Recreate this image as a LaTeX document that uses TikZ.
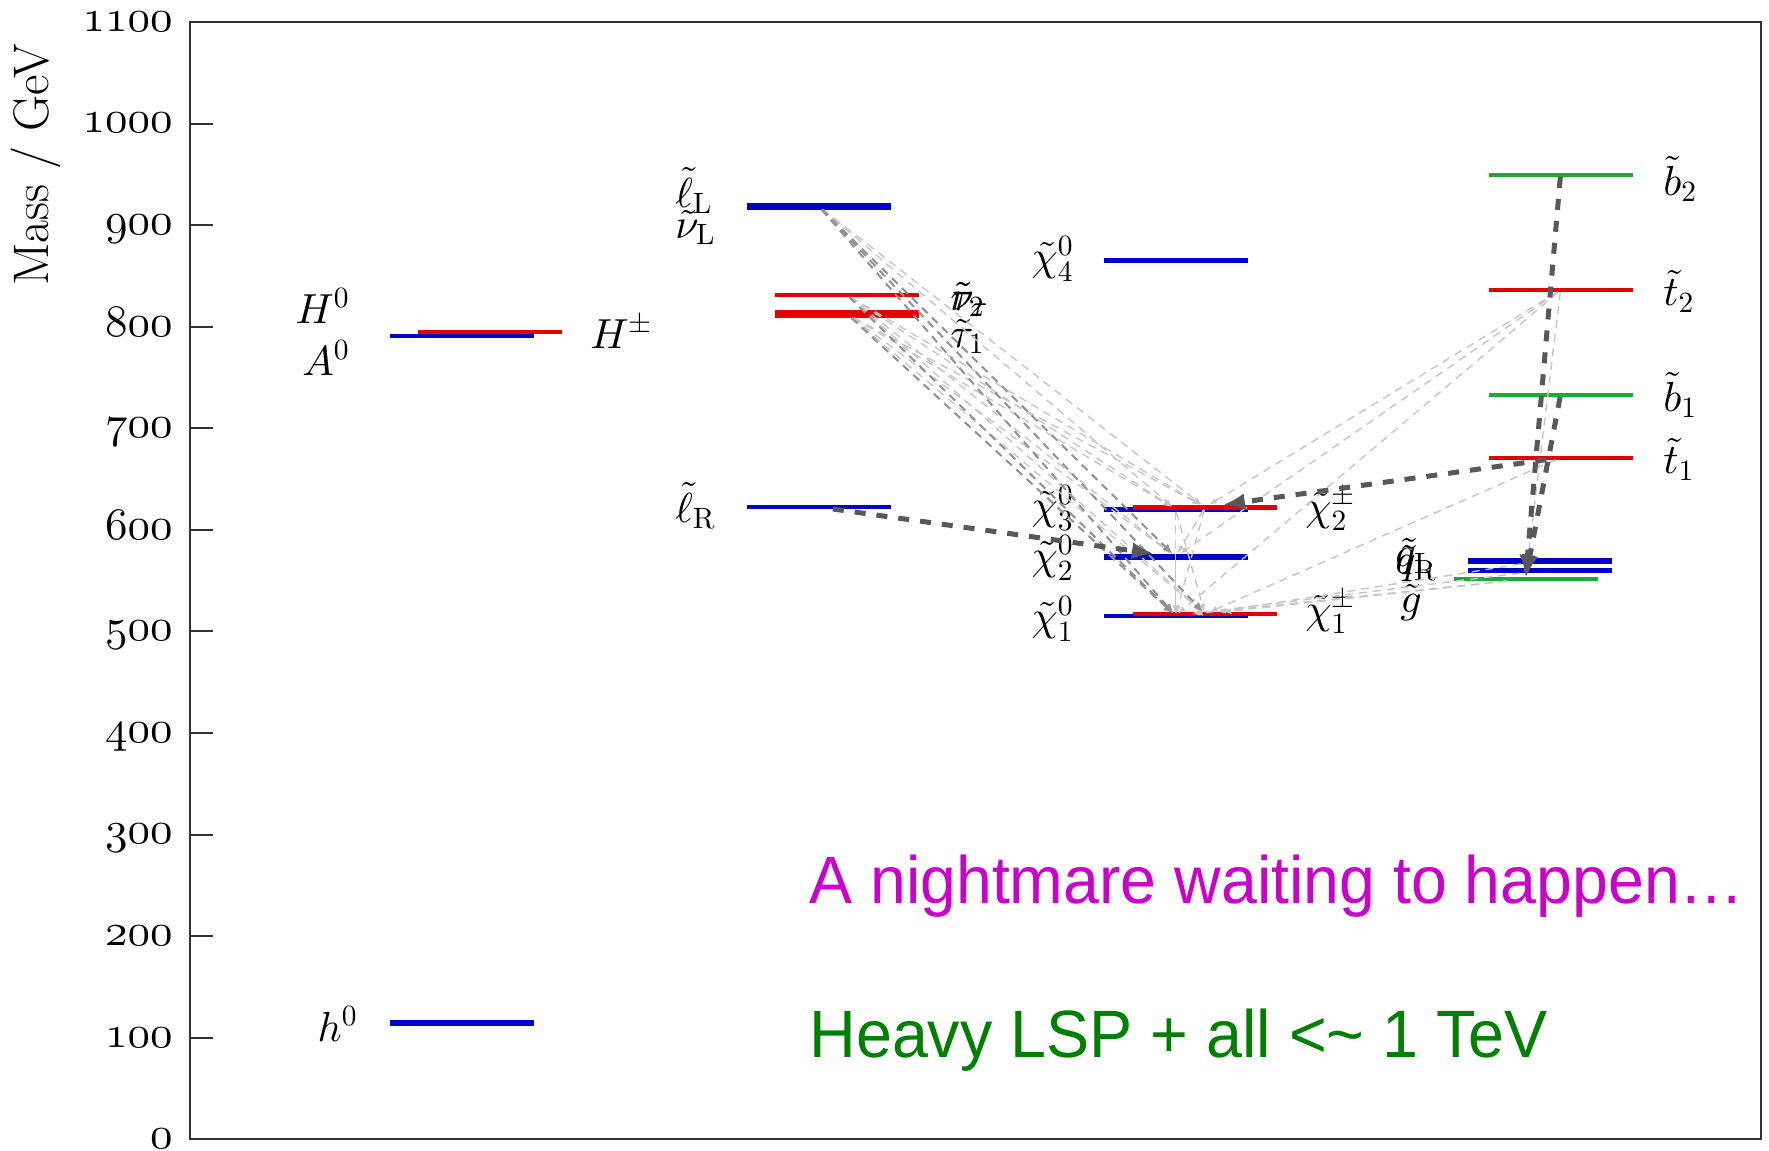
\documentclass[tikz,border=0pt]{standalone}
\usepackage[no-math]{fontspec}
\usetikzlibrary{arrows.meta}
\DeclareFontShape{OML}{cmm}{m}{it}{<->cmmi10}{}
\DeclareFontShape{OMS}{cmsy}{m}{n}{<->cmsy10}{}
\DeclareFontShape{OT1}{cmr}{m}{n}{<->cmr10}{}
\newfontfamily\arialf{Liberation Sans}
\newcommand\osn[1]{{\fontencoding{OML}\fontfamily{cmm}\fontseries{m}\fontshape{it}\selectfont #1}}
\definecolor{lvblue}{RGB}{0,0,205}
\definecolor{lvred}{RGB}{228,0,0}
\definecolor{lvgreen}{RGB}{30,170,50}
\definecolor{txmag}{RGB}{204,0,204}
\definecolor{txgreen}{RGB}{0,128,0}
\definecolor{decdark}{RGB}{88,88,88}
\definecolor{decmid}{RGB}{145,145,145}
\definecolor{declight}{RGB}{198,198,198}
\definecolor{framecol}{RGB}{50,50,50}
\tikzset{
  lev/.style={rectangle, fill=#1, draw=none, inner sep=0pt, outer sep=0pt, minimum width=72pt},
  lab/.style={inner sep=0pt, font=\fontsize{21}{25}\selectfont},
  ticklab/.style={inner sep=0pt, anchor=mid east, yshift=-2.5pt, font=\fontsize{22.5}{26}\selectfont},
  dkdec/.style={draw=decdark, line width=2.5pt, dash pattern=on 5.5pt off 5.5pt, -{Latex[length=11pt,width=8.5pt]}},
  middec/.style={draw=decmid, line width=1pt, dash pattern=on 4pt off 3pt, -{Latex[length=5pt,width=4pt]}},
  ltdec/.style={draw=declight, line width=0.7pt, dash pattern=on 4pt off 3pt, -{Latex[length=4pt,width=3pt]}},
  bigtext/.style={inner sep=0pt, anchor=base west, font=\arialf\fontsize{33.5}{40}\selectfont}
}
\begin{document}
\begin{tikzpicture}[x=0.5pt,y=-0.5pt]
\useasboundingbox (0,0) rectangle (1769,1151);
% frame and axis
\draw[framecol, line width=1pt] (190,22) rectangle (1761,1139);
\foreach \m in {100,200,...,1000}
  \draw[framecol, line width=1pt] (190,{1139.3-1.0157*\m}) -- (213,{1139.3-1.0157*\m});
\foreach \m in {0,100,...,1100}
  \node[ticklab] at (173,{1139.3-1.0157*\m}) {\osn{\m}};
\node[inner sep=0pt, anchor=base, rotate=90, font=\fontsize{25}{30}\selectfont] (ylab) at (48,165) {Mass / GeV};

% levels
\node[lev=lvblue, minimum height=3pt] (h0) at (461.5,1023) {};
\node[lev=lvblue, minimum height=2pt] (HA) at (461.5,336) {};
\node[lev=lvred, minimum height=2pt] (Hpm) at (490,331.7) {};
\node[lev=lvblue, minimum height=3.5pt] (lL) at (818.5,206) {};
\node[lev=lvred, minimum height=2.2pt] (tau2) at (847,295) {};
\node[lev=lvred, minimum height=4pt] (tau1) at (847,314) {};
\node[lev=lvblue, minimum height=2pt] (lR) at (818.5,507) {};
\node[lev=lvblue, minimum height=2.5pt] (chi40) at (1175.5,260) {};
\node[lev=lvblue, minimum height=2.5pt] (chi30) at (1175.5,509.3) {};
\node[lev=lvred, minimum height=2.5pt] (chi2p) at (1205,507.3) {};
\node[lev=lvblue, minimum height=3pt] (chi20) at (1175.5,556.7) {};
\node[lev=lvblue, minimum height=2pt] (chi10) at (1175.5,615.7) {};
\node[lev=lvred, minimum height=2pt] (chi1p) at (1205,614) {};
\node[lev=lvgreen, minimum height=2pt] (b2) at (1560.5,175) {};
\node[lev=lvred, minimum height=2pt] (t2) at (1560.5,290.3) {};
\node[lev=lvgreen, minimum height=2pt] (b1) at (1560.5,395) {};
\node[lev=lvred, minimum height=2pt] (t1) at (1560.5,457.7) {};
\node[lev=lvblue, minimum height=3pt] (qL) at (1540,561) {};
\node[lev=lvblue, minimum height=2.5pt] (qR) at (1540,570.7) {};
\node[lev=lvgreen, minimum height=2pt] (go) at (1525.5,579) {};

% labels
\node[lab, anchor=base east] (lH0) at (350,323) {$H^0$};
\node[lab, anchor=base east] (lA0) at (350,375) {$A^0$};
\node[lab, anchor=base west] (lHpm) at (590,348) {$H^\pm$};
\node[lab, anchor=base east] (lh0) at (358,1041) {$h^0$};
\node[lab, anchor=base west] (llL) at (675,207) {$\tilde{\ell}_{\mathrm{L}}$};
\node[lab, anchor=base west] (lnuL) at (675,238) {$\tilde{\nu}_{\mathrm{L}}$};
\node[lab, anchor=base west] (llR) at (675,522) {$\tilde{\ell}_{\mathrm{R}}$};
\node[lab, anchor=base west] (ltau2) at (950,310) {$\tilde{\tau}_2$};
\node[lab, anchor=base west] (lnutau) at (950,310) {$\tilde{\nu}_\tau$};
\node[lab, anchor=base west] (ltau1) at (950,347) {$\tilde{\tau}_1$};
\node[lab, anchor=east] (lchi40) at (1074,259) {$\tilde{\chi}^0_4$};
\node[lab, anchor=east] (lchi30) at (1074,508) {$\tilde{\chi}^0_3$};
\node[lab, anchor=east] (lchi20) at (1074,558) {$\tilde{\chi}^0_2$};
\node[lab, anchor=east] (lchi10) at (1074,619) {$\tilde{\chi}^0_1$};
\node[lab, anchor=west] (lchi2p) at (1305,509) {$\tilde{\chi}^\pm_2$};
\node[lab, anchor=west] (lchi1p) at (1305,612) {$\tilde{\chi}^\pm_1$};
\node[lab, anchor=west] (lb2) at (1663,179) {$\tilde{b}_2$};
\node[lab, anchor=west] (lt2) at (1663,291) {$\tilde{t}_2$};
\node[lab, anchor=west] (lb1) at (1663,395) {$\tilde{b}_1$};
\node[lab, anchor=west] (lt1) at (1663,459) {$\tilde{t}_1$};
\node[lab, anchor=west] (lqL) at (1395,557) {$\tilde{q}_{\mathrm{L}}$};
\node[lab, anchor=west] (lqR) at (1395,564) {$\tilde{q}_{\mathrm{R}}$};
\node[lab, anchor=west] (lgo) at (1400,603) {$\tilde{g}$};

% decays
\foreach \a/\b in {lL/chi2p, lL/chi30, tau2/chi1p, tau2/chi20, tau2/chi2p, tau2/chi30,
  tau1/chi1p, tau1/chi20, tau1/chi2p, tau1/chi30, chi30/chi10, chi30/chi1p,
  chi2p/chi10, chi2p/chi20, chi20/chi10, t2/chi2p, t2/chi20, t2/chi10, t2/go,
  t1/chi1p, go/chi10, go/chi1p, qL/chi1p, qR/chi10}
  \draw[ltdec] (\a) -- (\b);
\foreach \a/\b in {lL/chi10, lL/chi1p, lL/chi20, tau1/chi10, tau2/chi10}
  \draw[middec] (\a) -- (\b);
\foreach \a/\b in {lR/chi20, t1/chi2p, b2/go, b1/go}
  \draw[dkdec] (\a) -- (\b);

% texts
\node[bigtext, text=txmag] (nm) at (809,903) {\scalebox{0.962}[1]{A nightmare waiting to happen…}};
\node[bigtext, text=txgreen] (lsp) at (809,1057) {\scalebox{0.965}[1]{Heavy LSP + all <\textasciitilde\ 1 TeV}};
\end{tikzpicture}
\end{document}
